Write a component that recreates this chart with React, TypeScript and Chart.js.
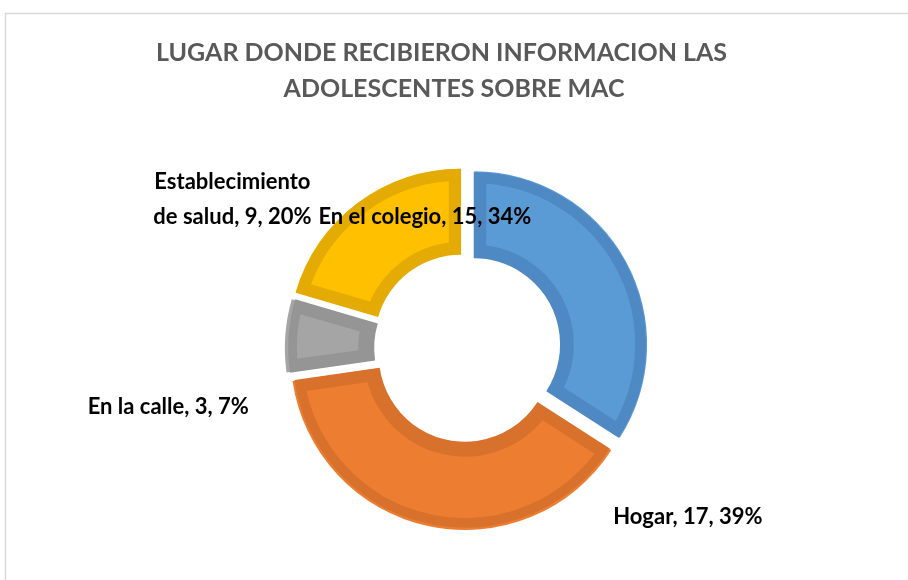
import React, { useEffect, useRef } from "react";
import { Chart, registerables } from "chart.js";

Chart.register(...registerables);

const TITLE_LINES = ["LUGAR DONDE RECIBIERON INFORMACION LAS", "ADOLESCENTES SOBRE MAC"];
const CATEGORIES = ["En el colegio", "Hogar", "En la calle", "Establecimiento de salud"];
const VALUES = [15, 17, 3, 9];
const FILL_COLORS = ["#5B9BD5", "#ED7D31", "#A5A5A5", "#FFC000"];
const BORDER_COLORS = ["#4F89C4", "#D8712C", "#959595", "#E4AB05"];
// label placement (centre of text block) in units of the outer radius, relative to ring centre
const LABEL_ANCHORS = [
  [-0.242, -0.767],
  [1.287, 0.981],
  [-1.734, 0.34],
  [-1.361, -0.869],
];
const LABEL_WRAP = [false, false, false, true];
// title line centres (fraction of canvas width) and vertical centres
const TITLE_CENTERS = [0.4863, 0.5];
const TITLE_Y = [53, 89];

const FONT = "Lato, 'Open Sans', sans-serif";
const EXPLODE = 10;

const textPlugin = {
  id: "texts",
  afterDraw(chart: any) {
    const ctx = chart.ctx;
    ctx.save();
    ctx.font = `bold 25px ${FONT}`;
    ctx.fillStyle = "#595959";
    ctx.textAlign = "center";
    ctx.textBaseline = "middle";
    TITLE_LINES.forEach((t, i) => ctx.fillText(t, chart.width * TITLE_CENTERS[i], TITLE_Y[i]));

    const meta = chart.getDatasetMeta(0);
    const arc0 = meta.data[0];
    if (arc0) {
      const cx = arc0.x;
      const cy = arc0.y;
      const R = arc0.outerRadius;
      const total = VALUES.reduce((a, b) => a + b, 0);
      ctx.font = `bold 22px ${FONT}`;
      ctx.fillStyle = "#000000";
      const lineH = 35;
      CATEGORIES.forEach((cat, i) => {
        const pct = Math.round((VALUES[i] / total) * 100);
        let lines: string[];
        if (LABEL_WRAP[i]) {
          const sp = cat.indexOf(" ");
          lines = [cat.slice(0, sp), `${cat.slice(sp + 1)}, ${VALUES[i]}, ${pct}%`];
        } else {
          lines = [`${cat}, ${VALUES[i]}, ${pct}%`];
        }
        const x = cx + LABEL_ANCHORS[i][0] * R;
        const y = cy + LABEL_ANCHORS[i][1] * R;
        const startY = y - ((lines.length - 1) * lineH) / 2;
        lines.forEach((ln, k) => ctx.fillText(ln, x, startY + k * lineH));
      });
    }
    ctx.restore();
  },
};

const framePlugin = {
  id: "frame",
  beforeDraw(chart: any) {
    const ctx = chart.ctx;
    ctx.save();
    ctx.fillStyle = "#ffffff";
    ctx.fillRect(0, 0, chart.width, chart.height);
    ctx.strokeStyle = "#d9d9d9";
    ctx.lineWidth = 1.5;
    ctx.beginPath();
    ctx.moveTo(5.5, chart.height);
    ctx.lineTo(5.5, 13.5);
    ctx.lineTo(chart.width, 13.5);
    ctx.stroke();
    ctx.restore();
  },
};

export default function App() {
  const ref = useRef<HTMLCanvasElement | null>(null);
  useEffect(() => {
    document.body.style.margin = "0";
    const canvas = ref.current;
    if (!canvas) return;
    const chart = new Chart(canvas, {
      type: "doughnut",
      data: {
        labels: CATEGORIES,
        datasets: [
          {
            data: VALUES,
            backgroundColor: FILL_COLORS,
            borderColor: BORDER_COLORS,
            borderWidth: 12,
            borderAlign: "inner",
            borderJoinStyle: "miter",
            offset: (c: any) => {
              const data = c.dataset.data as number[];
              const total = data.reduce((a, b) => a + b, 0);
              const circ = (data[c.dataIndex] / total) * Math.PI * 2;
              const fix = 1 - Math.sin(Math.min(Math.PI, circ));
              return (4 * EXPLODE) / (1 + fix);
            },
          } as any,
        ],
      },
      options: {
        responsive: false,
        animation: false,
        devicePixelRatio: 1,
        radius: 172,
        cutout: "50%",
        layout: { padding: { left: 25, right: 0, top: 127, bottom: 10 } },
        plugins: {
          legend: { display: false },
          tooltip: { enabled: false },
          title: { display: false },
        },
      } as any,
      plugins: [framePlugin, textPlugin],
    });
    return () => chart.destroy();
  }, []);
  return (
    <div style={{ position: "absolute", left: 0, top: 0, width: 908, height: 580 }}>
      <canvas ref={ref} width={908} height={580} />
    </div>
  );
}
